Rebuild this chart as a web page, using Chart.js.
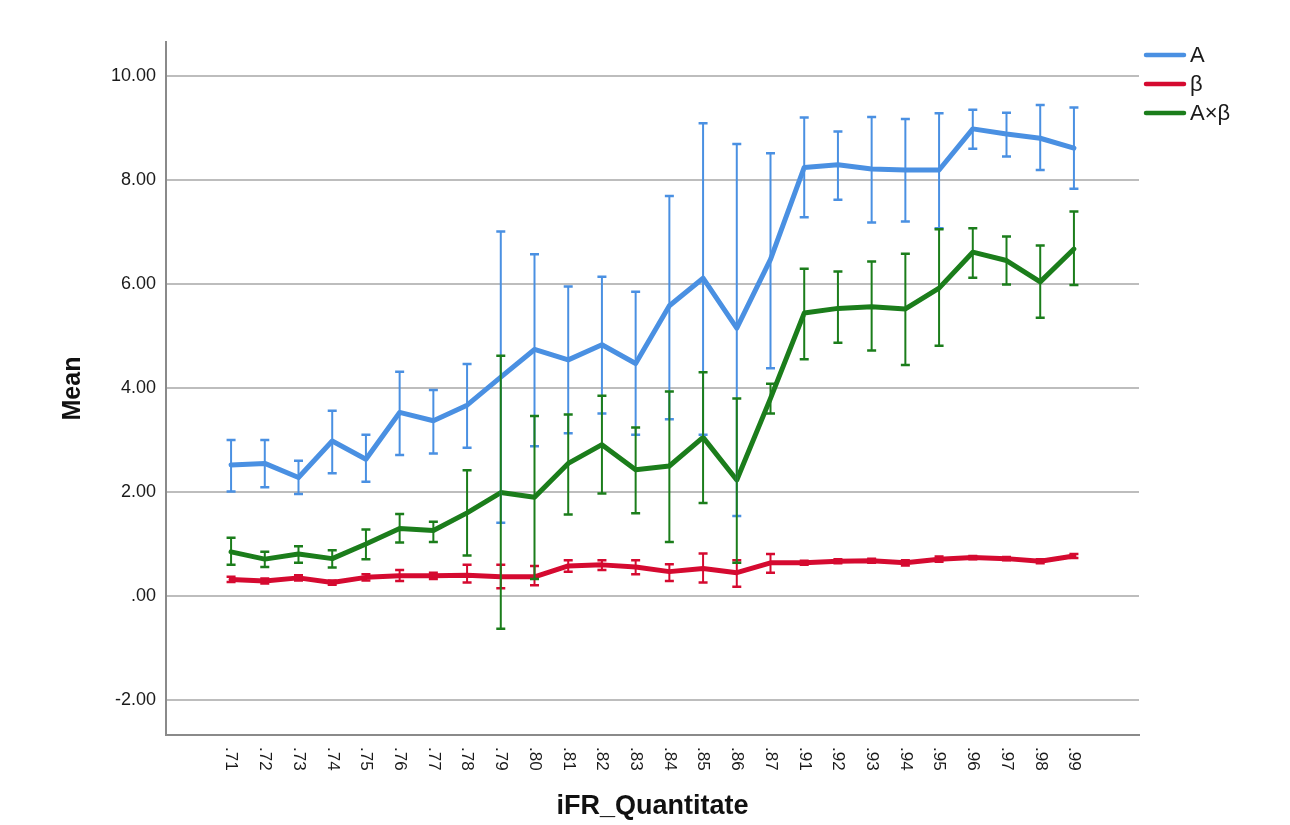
<!DOCTYPE html>
<html>
<head>
<meta charset="utf-8">
<script src="https://cdn.jsdelivr.net/npm/chart.js@4.4.1/dist/chart.umd.min.js"></script>
<style>
  html, body { margin: 0; padding: 0; background: #ffffff; }
  #wrap { position: relative; width: 1290px; height: 825px; }
</style>
</head>
<body>
<div id="wrap"><canvas id="c"></canvas></div>
<script>
// ---- data ----
const categories = ['.71','.72','.73','.74','.75','.76','.77','.78','.79','.80','.81','.82','.83','.84','.85','.86','.87','.91','.92','.93','.94','.95','.96','.97','.98','.99'];
const yTicks = [-2, 0, 2, 4, 6, 8, 10];
const seriesNames = ['A', 'β', 'A×β'];

const aMean = [2.52, 2.55, 2.28, 2.98, 2.63, 3.53, 3.37, 3.67, 4.21, 4.74, 4.54, 4.83, 4.47, 5.58, 6.11, 5.15, 6.47, 8.24, 8.29, 8.21, 8.19, 8.19, 8.98, 8.88, 8.80, 8.61];
const aHigh = [3.00, 3.00, 2.60, 3.56, 3.10, 4.31, 3.96, 4.46, 7.01, 6.57, 5.95, 6.14, 5.85, 7.69, 9.09, 8.69, 8.51, 9.20, 8.93, 9.21, 9.17, 9.28, 9.35, 9.29, 9.44, 9.39];
const aLow  = [2.01, 2.09, 1.96, 2.36, 2.20, 2.71, 2.74, 2.85, 1.41, 2.88, 3.13, 3.51, 3.10, 3.40, 3.10, 1.54, 4.38, 7.28, 7.62, 7.18, 7.20, 7.07, 8.60, 8.45, 8.19, 7.83];

const bMean = [0.32, 0.29, 0.35, 0.26, 0.36, 0.39, 0.39, 0.40, 0.37, 0.37, 0.58, 0.60, 0.56, 0.47, 0.53, 0.45, 0.64, 0.64, 0.67, 0.68, 0.64, 0.71, 0.74, 0.72, 0.67, 0.77];
const bHigh = [0.37, 0.34, 0.40, 0.30, 0.42, 0.50, 0.45, 0.60, 0.60, 0.58, 0.69, 0.69, 0.69, 0.61, 0.82, 0.69, 0.81, 0.68, 0.71, 0.72, 0.69, 0.76, 0.77, 0.75, 0.71, 0.81];
const bLow  = [0.27, 0.24, 0.30, 0.22, 0.30, 0.29, 0.33, 0.26, 0.15, 0.21, 0.47, 0.50, 0.42, 0.29, 0.26, 0.18, 0.45, 0.60, 0.63, 0.64, 0.59, 0.66, 0.71, 0.69, 0.63, 0.73];

const gMean = [0.85, 0.71, 0.81, 0.72, 1.00, 1.30, 1.26, 1.60, 1.99, 1.90, 2.55, 2.91, 2.43, 2.50, 3.05, 2.23, 3.80, 5.44, 5.53, 5.56, 5.52, 5.92, 6.61, 6.45, 6.04, 6.67];
const gHigh = [1.12, 0.85, 0.96, 0.88, 1.28, 1.58, 1.43, 2.42, 4.62, 3.46, 3.49, 3.85, 3.24, 3.93, 4.30, 3.80, 4.08, 6.29, 6.24, 6.43, 6.58, 7.05, 7.07, 6.91, 6.74, 7.39];
const gLow  = [0.60, 0.56, 0.64, 0.55, 0.71, 1.03, 1.04, 0.78, -0.63, 0.33, 1.57, 1.97, 1.59, 1.04, 1.79, 0.64, 3.51, 4.55, 4.87, 4.72, 4.44, 4.81, 6.12, 5.99, 5.35, 5.98];

// ---- styles ----
const COLORS = ['#4a90e2', '#d50a30', '#1b7d1b'];
const FONT = "'Liberation Sans', Arial, sans-serif";
Chart.defaults.font.family = FONT;

const toPts = arr => arr.map((v, i) => ({ x: i, y: v }));
const errors = [[aLow, aHigh], [bLow, bHigh], [gLow, gHigh]];

const datasets = [aMean, bMean, gMean].map((m, k) => ({
  label: seriesNames[k],
  data: toPts(m),
  borderColor: COLORS[k],
  backgroundColor: COLORS[k],
  borderWidth: 5,
  pointRadius: 0,
  tension: 0,
  borderJoinStyle: 'round',
  borderCapStyle: 'round',
  errLow: errors[k][0],
  errHigh: errors[k][1]
}));

const errorBars = {
  id: 'errorBars',
  afterDatasetsDraw(chart) {
    const ctx = chart.ctx;
    const xs = chart.scales.x, ys = chart.scales.y;
    chart.data.datasets.forEach((ds, k) => {
      ctx.save();
      ctx.strokeStyle = ds.borderColor;
      ctx.lineCap = 'butt';
      for (let i = 0; i < ds.data.length; i++) {
        const x = xs.getPixelForValue(i);
        const yH = ys.getPixelForValue(ds.errHigh[i]);
        const yL = ys.getPixelForValue(ds.errLow[i]);
        ctx.lineWidth = 2;
        ctx.beginPath();
        ctx.moveTo(x, yH); ctx.lineTo(x, yL);
        ctx.stroke();
        ctx.lineWidth = 2.5;
        ctx.beginPath();
        ctx.moveTo(x - 4.5, yH); ctx.lineTo(x + 4.5, yH);
        ctx.moveTo(x - 4.5, yL); ctx.lineTo(x + 4.5, yL);
        ctx.stroke();
      }
      ctx.restore();
    });
  }
};

const extras = {
  id: 'extras',
  afterDraw(chart) {
    const ctx = chart.ctx;
    const xs = chart.scales.x;
    // rotated (clockwise) category labels
    ctx.save();
    ctx.fillStyle = '#1a1a1a';
    ctx.font = '17px ' + FONT;
    ctx.textAlign = 'left';
    ctx.textBaseline = 'middle';
    categories.forEach((lab, i) => {
      const x = xs.getPixelForValue(i);
      ctx.save();
      ctx.translate(x, xs.top + 12);
      ctx.rotate(Math.PI / 2);
      ctx.fillText(lab, 0, 0);
      ctx.restore();
    });
    ctx.restore();
    // legend
    ctx.save();
    chart.data.datasets.forEach((ds, k) => {
      const y = 55 + k * 29;
      ctx.strokeStyle = ds.borderColor;
      ctx.lineWidth = 4.5;
      ctx.lineCap = 'round';
      ctx.beginPath();
      ctx.moveTo(1146, y); ctx.lineTo(1184, y);
      ctx.stroke();
      ctx.fillStyle = '#1a1a1a';
      ctx.font = '22px ' + FONT;
      ctx.textAlign = 'left';
      ctx.textBaseline = 'middle';
      ctx.fillText(ds.label, 1190, y + 1);
    });
    ctx.restore();
  }
};

new Chart(document.getElementById('c'), {
  type: 'line',
  data: { datasets },
  plugins: [errorBars, extras],
  options: {
    responsive: true,
    maintainAspectRatio: false,
    animation: false,
    layout: { padding: { top: 42, right: 151, left: 0, bottom: 0 } },
    plugins: { legend: { display: false }, tooltip: { enabled: false } },
    scales: {
      x: {
        type: 'linear',
        min: -1.93,
        max: 26.93,
        afterBuildTicks: s => { s.ticks = categories.map((_, i) => ({ value: i })); },
        afterFit: s => { s.height = 90; },
        grid: { display: false, drawTicks: false },
        border: { display: true, color: '#8a8a8a', width: 2 },
        ticks: { display: false },
        title: {
          display: true,
          text: 'iFR_Quantitate',
          color: '#111',
          font: { size: 27, weight: 'bold', family: FONT },
          padding: { top: 0, bottom: 2 }
        }
      },
      y: {
        type: 'linear',
        min: -2.67,
        max: 10.65,
        afterBuildTicks: s => { s.ticks = yTicks.map(v => ({ value: v })); },
        afterFit: s => { s.width = 166; },
        grid: { color: '#bdbdbd', lineWidth: 2, drawTicks: false },
        border: { display: true, color: '#8a8a8a', width: 2 },
        ticks: {
          color: '#1a1a1a',
          padding: 10,
          font: { size: 18, family: FONT },
          callback: v => v === 0 ? '.00' : v.toFixed(2)
        },
        title: {
          display: true,
          text: 'Mean',
          color: '#111',
          font: { size: 25, weight: 'bold', family: FONT },
          padding: { top: 58, bottom: 0 }
        }
      }
    }
  }
});
</script>
</body>
</html>
